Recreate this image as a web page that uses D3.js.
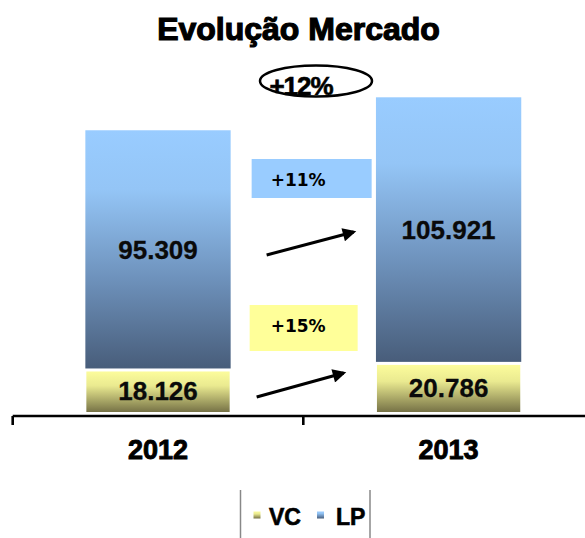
<!DOCTYPE html>
<html>
<head>
<meta charset="utf-8">
<script src="https://d3js.org/d3.v7.min.js"></script>
<style>
  body { margin: 0; background: #fff; }
  svg { display: block; }
</style>
</head>
<body>
<script>
// data
var years = ["2012", "2013"];
var vcValues = [18126, 20786];
var lpValues = [95309, 105921];
var seriesNames = ["VC", "LP"];
var growthLP = "+11%";
var growthVC = "+15%";
var growthTotal = "+12%";

var W = 585, H = 538;
var font = "'Liberation Sans', Arial, sans-serif";

var svg = d3.select("body").append("svg")
  .attr("width", W)
  .attr("height", H);

var defs = svg.append("defs");

// LP gradient (light blue -> slate)
var gLP = defs.append("linearGradient").attr("id", "gradLP")
  .attr("x1", 0).attr("y1", 0).attr("x2", 0).attr("y2", 1);
gLP.append("stop").attr("offset", "0%").attr("stop-color", "#99ccff");
gLP.append("stop").attr("offset", "25%").attr("stop-color", "#94c5f6");
gLP.append("stop").attr("offset", "62%").attr("stop-color", "#6e92bc");
gLP.append("stop").attr("offset", "100%").attr("stop-color", "#485d7a");

// VC gradient (light yellow -> olive)
var gVC = defs.append("linearGradient").attr("id", "gradVC")
  .attr("x1", 0).attr("y1", 0).attr("x2", 0).attr("y2", 1);
gVC.append("stop").attr("offset", "0%").attr("stop-color", "#fcfc9c");
gVC.append("stop").attr("offset", "35%").attr("stop-color", "#eaea90");
gVC.append("stop").attr("offset", "100%").attr("stop-color", "#767246");

var fmt = d3.formatLocale({decimal: ",", thousands: ".", grouping: [3], currency: ["", ""]}).format(",d");

var rows = years.map(function(y, i) {
  return {year: y, vc: vcValues[i], lp: lpValues[i], total: vcValues[i] + lpValues[i]};
});

// scales
var x = d3.scaleBand()
  .domain(years)
  .range([12.7, 593.9])
  .paddingInner(0.5)
  .paddingOuter(0.25);

var y = d3.scaleLinear()
  .domain([0, d3.max(rows, function(d) { return d.total; })])
  .range([412, 97.3]);

var step = x.step();

// bars
var bars = svg.append("g").selectAll("g").data(rows).enter().append("g");

bars.append("rect")
  .attr("x", function(d) { return x(d.year); })
  .attr("width", x.bandwidth())
  .attr("y", function(d) { return y(d.total); })
  .attr("height", function(d) { return y(d.vc) + 1.5 - y(d.total); })
  .attr("fill", "url(#gradLP)");

bars.append("rect")
  .attr("x", function(d) { return x(d.year) + 1; })
  .attr("width", x.bandwidth() - 2)
  .attr("y", function(d) { return y(d.vc) + 4.5; })
  .attr("height", function(d) { return y(0) - y(d.vc) - 4.5; })
  .attr("fill", "url(#gradVC)");

// value labels
bars.append("text")
  .attr("x", function(d) { return x(d.year) + x.bandwidth() / 2; })
  .attr("y", function(d) { return (y(d.total) + y(d.vc)) / 2 + 10; })
  .attr("text-anchor", "middle")
  .attr("font-family", font)
  .attr("font-weight", "bold")
  .attr("font-size", "26px")
  .attr("fill", "#0a0a0a")
  .attr("stroke", "#0a0a0a").attr("stroke-width", 0.3)
  .text(function(d) { return fmt(d.lp); });

bars.append("text")
  .attr("x", function(d) { return x(d.year) + x.bandwidth() / 2; })
  .attr("y", function(d) { return (y(d.vc) + y(0)) / 2 + 11; })
  .attr("text-anchor", "middle")
  .attr("font-family", font)
  .attr("font-weight", "bold")
  .attr("font-size", "26px")
  .attr("fill", "#0a0a0a")
  .attr("stroke", "#0a0a0a").attr("stroke-width", 0.3)
  .text(function(d) { return fmt(d.vc); });

// category axis
var axisY = 416;
svg.append("line")
  .attr("x1", 12.7).attr("x2", W)
  .attr("y1", axisY).attr("y2", axisY)
  .attr("stroke", "#000").attr("stroke-width", 2.6);

var tickX = [x.range()[0]].concat(years.map(function(d) { return x(d) + x.bandwidth() + (step - x.bandwidth()) / 2; }));
svg.append("g").selectAll("line").data(tickX).enter().append("line")
  .attr("x1", function(d) { return d; }).attr("x2", function(d) { return d; })
  .attr("y1", axisY).attr("y2", axisY + 9)
  .attr("stroke", "#000").attr("stroke-width", 2.6);

svg.append("g").selectAll("text").data(years).enter().append("text")
  .attr("x", function(d) { return x(d) + x.bandwidth() / 2; })
  .attr("y", 458.5)
  .attr("text-anchor", "middle")
  .attr("font-family", font)
  .attr("font-weight", "bold")
  .attr("font-size", "27px")
  .attr("fill", "#000")
  .attr("stroke", "#000").attr("stroke-width", 0.9)
  .text(function(d) { return d; });

// title
svg.append("text")
  .attr("x", 298.5)
  .attr("y", 40)
  .attr("text-anchor", "middle")
  .attr("font-family", font)
  .attr("font-weight", "bold")
  .attr("font-size", "32px")
  .attr("fill", "#000")
  .attr("stroke", "#000").attr("stroke-width", 1.2)
  .text("Evolução Mercado");

// total growth in ellipse
svg.append("ellipse")
  .attr("cx", 316).attr("cy", 81)
  .attr("rx", 56).attr("ry", 15.5)
  .attr("fill", "none")
  .attr("stroke", "#000").attr("stroke-width", 2.5);
svg.append("text")
  .attr("x", 301).attr("y", 95)
  .attr("text-anchor", "middle")
  .attr("font-family", font)
  .attr("font-weight", "bold")
  .attr("font-size", "26px")
  .attr("letter-spacing", "-1px")
  .attr("fill", "#000")
  .attr("stroke", "#000").attr("stroke-width", 0.6)
  .text(growthTotal);

// growth boxes
var midX = x("2012") + x.bandwidth();
var boxes = [
  {label: growthLP, fill: "#99ccff", x0: midX + 21, x1: midX + 141, y0: 159, y1: 198, ty: 186},
  {label: growthVC, fill: "#ffff99", x0: midX + 19, x1: midX + 127, y0: 305, y1: 351, ty: 332}
];
var bg = svg.append("g").selectAll("g").data(boxes).enter().append("g");
bg.append("rect")
  .attr("x", function(d) { return d.x0; })
  .attr("y", function(d) { return d.y0; })
  .attr("width", function(d) { return d.x1 - d.x0; })
  .attr("height", function(d) { return d.y1 - d.y0; })
  .attr("fill", function(d) { return d.fill; });
bg.append("text")
  .attr("x", midX + 40)
  .attr("y", function(d) { return d.ty; })
  .attr("font-family", "'DejaVu Sans', Verdana, sans-serif")
  .attr("font-weight", "bold")
  .attr("font-size", "17px")
  .attr("fill", "#000")
  .text(function(d) { return d.label; });

// arrows
defs.append("marker")
  .attr("id", "head")
  .attr("viewBox", "0 0 10 10")
  .attr("refX", 8).attr("refY", 5)
  .attr("markerWidth", 5).attr("markerHeight", 4.5)
  .attr("markerUnits", "strokeWidth")
  .attr("orient", "auto")
  .append("path").attr("d", "M0,0 L10,5 L0,10 Z").attr("fill", "#000");

var arrows = [
  {x1: midX + 36, y1: 255, x2: midX + 123, y2: 232},
  {x1: midX + 26, y1: 397, x2: midX + 113, y2: 373}
];
svg.append("g").selectAll("line").data(arrows).enter().append("line")
  .attr("x1", function(d) { return d.x1; })
  .attr("y1", function(d) { return d.y1; })
  .attr("x2", function(d) { return d.x2; })
  .attr("y2", function(d) { return d.y2; })
  .attr("stroke", "#000").attr("stroke-width", 3)
  .attr("marker-end", "url(#head)");

// legend
var lg = svg.append("g");
lg.append("line").attr("x1", 240.5).attr("x2", 240.5).attr("y1", 490).attr("y2", H)
  .attr("stroke", "#888").attr("stroke-width", 1.5);
lg.append("line").attr("x1", 370).attr("x2", 370).attr("y1", 490).attr("y2", H)
  .attr("stroke", "#888").attr("stroke-width", 1.5);

var legendItems = [
  {name: seriesNames[0], fill: "url(#gradVC)", sx: 253.5, tx: 269},
  {name: seriesNames[1], fill: "url(#gradLP)", sx: 317, tx: 336}
];
var li = lg.selectAll("g").data(legendItems).enter().append("g");
li.append("rect")
  .attr("x", function(d) { return d.sx; })
  .attr("y", 511.5)
  .attr("width", 7).attr("height", 7)
  .attr("fill", function(d) { return d.fill; });
li.append("text")
  .attr("x", function(d) { return d.tx; })
  .attr("y", 525)
  .attr("font-family", font)
  .attr("font-weight", "bold")
  .attr("font-size", "23px")
  .attr("fill", "#000")
  .attr("stroke", "#000").attr("stroke-width", 0.6)
  .text(function(d) { return d.name; });
</script>
</body>
</html>
